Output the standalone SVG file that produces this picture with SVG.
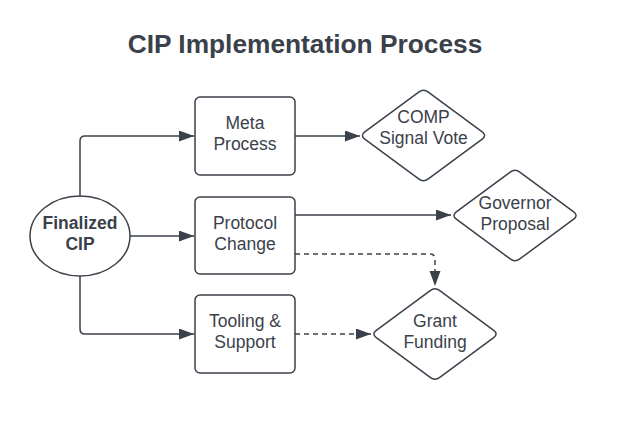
<svg xmlns="http://www.w3.org/2000/svg" width="631" height="427" viewBox="0 0 631 427">
<style>
.n{fill:#fff;stroke:#3a414a;stroke-width:1.5}
.t{font-family:"Liberation Sans",Arial,sans-serif;font-size:17.5px;fill:#3a414a;text-anchor:middle}
.b{font-weight:bold}
.c{fill:none;stroke:#3a414a;stroke-width:1.5}
.d{stroke-dasharray:5 4}
</style>
<defs>
<marker id="ah" markerUnits="userSpaceOnUse" markerWidth="16" markerHeight="12" refX="15" refY="5.5" orient="auto">
<path d="M0,0 L15,5.5 L0,11 z" fill="#3a414a"/>
</marker>
<path id="dia" d="M -58.7,-3.57 L -4.8,-43.43 Q 0,-47 4.8,-43.43 L 58.7,-3.57 Q 63.5,0 58.7,3.57 L 4.8,43.43 Q 0,47 -4.8,43.43 L -58.7,3.57 Q -63.5,0 -58.7,-3.57 Z"/>
</defs>
<rect width="631" height="427" fill="#fff"/>
<text x="305" y="53" class="t b" style="font-size:26.3px">CIP Implementation Process</text>
<g id="connectors">
<path class="c" d="M80,196 V141 Q80,136 85,136 H194" marker-end="url(#ah)"/>
<path class="c" d="M130,236 H194" marker-end="url(#ah)"/>
<path class="c" d="M80,276 V329 Q80,334 85,334 H194" marker-end="url(#ah)"/>
<path class="c" d="M295,136 H360" marker-end="url(#ah)"/>
<path class="c" d="M295,215 H451" marker-end="url(#ah)"/>
<path class="c d" d="M295,254 H430 Q435,254 435,259 V286" marker-end="url(#ah)"/>
<path class="c d" d="M295,334 H371" marker-end="url(#ah)"/>
</g>
<g id="finalized">
<ellipse class="n" cx="80" cy="236" rx="50" ry="40"/>
<text class="t b" x="80" y="228.5">Finalized</text>
<text class="t b" x="80" y="249.5">CIP</text>
</g>
<g id="meta">
<rect class="n" x="195" y="97" width="100" height="78" rx="5"/>
<text class="t" x="245" y="129">Meta</text>
<text class="t" x="245" y="150">Process</text>
</g>
<g id="protocol">
<rect class="n" x="195" y="197" width="100" height="77" rx="5"/>
<text class="t" x="245" y="229">Protocol</text>
<text class="t" x="245" y="250">Change</text>
</g>
<g id="tooling">
<rect class="n" x="195" y="295" width="100" height="78" rx="5"/>
<text class="t" x="245" y="327">Tooling &amp;</text>
<text class="t" x="245" y="348">Support</text>
</g>
<g id="comp">
<use href="#dia" class="n" transform="translate(423.5,135.5)"/>
<text class="t" x="423.5" y="123">COMP</text>
<text class="t" x="423.5" y="144">Signal Vote</text>
</g>
<g id="governor">
<use href="#dia" class="n" transform="translate(515,215.5)"/>
<text class="t" x="515" y="208.5">Governor</text>
<text class="t" x="515" y="229.5">Proposal</text>
</g>
<g id="grant">
<use href="#dia" class="n" transform="translate(435,334)"/>
<text class="t" x="435" y="327">Grant</text>
<text class="t" x="435" y="348">Funding</text>
</g>
</svg>
